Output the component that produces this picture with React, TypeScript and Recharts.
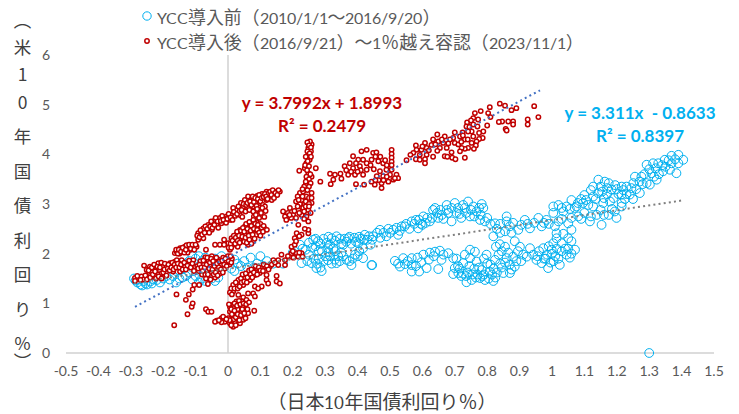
import { ScatterChart, Scatter, XAxis, YAxis, ReferenceLine } from "recharts";

const CJK = '"Noto Sans CJK JP"';
const LATIN = `Lato, ${CJK}, sans-serif`;
// Lato scaled down to sit next to larger kana and kanji, close to the original's Latin width
const MIXED = `NarrowLato, ${CJK}, sans-serif`;
const fontCss = `@font-face { font-family: NarrowLato; src: local("Lato"), local("Lato Regular"); size-adjust: 88%; unicode-range: U+0020-007E; }`;

const xTicks = [-0.5, -0.4, -0.3, -0.2, -0.1, 0, 0.1, 0.2, 0.3, 0.4, 0.5, 0.6, 0.7, 0.8, 0.9, 1, 1.1, 1.2, 1.3, 1.4, 1.5];
const yTicks = [0, 1, 2, 3, 4, 5, 6];

const preName = "YCC導入前（2010/1/1～2016/9/20）";
const postName = "YCC導入後（2016/9/21）～1％越え容認（2023/11/1）";
const xTitle = "（日本10年国債利回り％）";
const yTitle = "（米10年国債利回り％）";

type Pair = [number, number];

// 2010-2016 series
const preLeft: Pair[] = [
  [-0.29, 1.5], [-0.28, 1.42], [-0.27, 1.38], [-0.26, 1.45], [-0.25, 1.38], [-0.24, 1.44], [-0.22, 1.47], [-0.2, 1.5],
  [-0.18, 1.48], [-0.16, 1.42], [-0.15, 1.5], [-0.13, 1.55], [-0.12, 1.62], [-0.1, 1.55], [-0.08, 1.5], [-0.07, 1.45],
  [-0.05, 1.5], [-0.04, 1.45], [-0.03, 1.52], [-0.16, 1.65], [-0.14, 1.7], [-0.12, 1.85], [-0.1, 1.9], [-0.08, 1.85],
  [-0.06, 1.8], [-0.04, 1.9], [-0.02, 1.95], [0, 1.9], [0.01, 1.7], [0.02, 1.65], [0.03, 1.8], [0.05, 1.85],
  [0.06, 1.72], [0.07, 1.92], [0.09, 1.8], [0.1, 1.95], [0.12, 1.85], [0.14, 1.8], [0.17, 1.8], [-0.11, 1.72],
  [-0.09, 1.66], [-0.06, 1.62], [-0.02, 1.72], [-0.285, 1.46], [-0.275, 1.48], [-0.265, 1.36], [-0.255, 1.4], [-0.235, 1.4],
  [-0.23, 1.48], [-0.21, 1.42], [-0.19, 1.55], [-0.17, 1.55], [-0.14, 1.52], [-0.11, 1.48], [-0.09, 1.42], [-0.15, 1.78],
  [-0.13, 1.8], [-0.11, 1.95], [-0.09, 1.95], [-0.07, 1.92], [0.04, 1.75], [0.08, 1.72], [0.11, 1.75], [0.02, 1.88],
];
const preMid: Pair[] = [
  [0.2, 2.02], [0.222, 2.18], [0.227, 1.81], [0.24, 2.08], [0.263, 2.28], [0.278, 2.25], [0.258, 1.81], [0.289, 1.65],
  [0.273, 1.71], [0.309, 2.11], [0.32, 2.31], [0.335, 2.35], [0.325, 2.11], [0.309, 1.87], [0.335, 1.81], [0.356, 2.18],
  [0.371, 2.31], [0.366, 1.875], [0.381, 1.77], [0.392, 1.98], [0.402, 2.21], [0.422, 2.38], [0.417, 2.11], [0.417, 1.91],
  [0.443, 1.77], [0.29, 2.05], [0.3, 1.95], [0.35, 2.02], [0.34, 1.95], [0.28, 1.9], [0.38, 2.2], [0.39, 2.32],
  [0.43, 2.28], [0.44, 2.18], [0.25, 1.98], [0.27, 2.15], [0.36, 2.3], [0.41, 2.3], [0.23, 2.1], [0.25, 2.22],
  [0.26, 2.12], [0.27, 2.3], [0.285, 2.2], [0.295, 2.3], [0.305, 2.22], [0.31, 2.34], [0.315, 2.18], [0.33, 2.26],
  [0.345, 2.3], [0.35, 2.2], [0.365, 2.24], [0.375, 2.34], [0.395, 2.24], [0.405, 2.34], [0.42, 2.28], [0.435, 2.35],
  [0.445, 2.28], [0.245, 1.85], [0.265, 1.9], [0.275, 1.8], [0.285, 1.72], [0.295, 1.85], [0.315, 1.95], [0.32, 1.8],
  [0.33, 1.88], [0.345, 1.85], [0.355, 1.95], [0.375, 1.85], [0.385, 1.9], [0.4, 1.95], [0.405, 2.05], [0.28, 2.05],
  [0.31, 2.03], [0.33, 2.05],
];
const preUpper: Pair[] = [
  [0.448, 2.35], [0.469, 2.48], [0.489, 2.35], [0.51, 2.48], [0.536, 2.55], [0.525, 2.38], [0.567, 2.65], [0.587, 2.51],
  [0.603, 2.75], [0.623, 2.65], [0.649, 2.72], [0.633, 2.88], [0.675, 2.88], [0.69, 2.65], [0.705, 2.82], [0.731, 2.92],
  [0.747, 2.75], [0.767, 2.85], [0.788, 2.92], [0.793, 2.65], [0.778, 2.68], [0.824, 2.61], [0.819, 2.35], [0.855, 2.45],
  [0.86, 2.75], [0.86, 2.65], [0.896, 2.48], [0.916, 2.68], [0.932, 2.51], [0.958, 2.72], [0.968, 2.55], [0.983, 2.68],
  [1.009, 2.55], [1.004, 2.82], [1.035, 2.85], [1.05, 2.61], [1.076, 2.95], [1.081, 2.75], [1.117, 2.65], [1.138, 2.78],
  [1.153, 2.58], [1.16, 2.78], [1.199, 2.72], [1.194, 2.85], [1.215, 2.95], [1.127, 2.95], [1.014, 2.41], [1.014, 2.31],
  [1.05, 2.31], [0.783, 3], [0.741, 3.05], [0.726, 2.98], [0.7, 3.02], [0.675, 2.98], [0.639, 2.92], [0.757, 2.95],
  [0.55, 2.6], [0.58, 2.68], [0.61, 2.62], [0.66, 2.78], [0.72, 2.72], [0.5, 2.42], [0.47, 2.32], [0.6, 2.58],
  [0.46, 2.42], [0.48, 2.42], [0.495, 2.5], [0.52, 2.52], [0.53, 2.46], [0.545, 2.55], [0.56, 2.5], [0.575, 2.6],
  [0.59, 2.68], [0.595, 2.6], [0.615, 2.72], [0.63, 2.72], [0.645, 2.82], [0.655, 2.88], [0.665, 2.7], [0.68, 2.82],
  [0.69, 2.92], [0.71, 2.92], [0.715, 2.8], [0.735, 2.82], [0.75, 2.88], [0.76, 2.75], [0.775, 2.92], [0.78, 2.78],
  [0.8, 2.72], [0.81, 2.6], [0.83, 2.5], [0.84, 2.6], [0.87, 2.55], [0.88, 2.62], [0.905, 2.58], [0.925, 2.6],
  [0.945, 2.62], [0.975, 2.62], [0.99, 2.6], [1.02, 2.65], [1.03, 2.7], [1.06, 2.72], [1.09, 2.7], [1.1, 2.82],
  [1.12, 2.75], [1.15, 2.88], [1.175, 2.78], [1.185, 2.9], [0.84, 2.42], [0.875, 2.42], [1.035, 2.4], [1.06, 2.48],
];
const preLower: Pair[] = [
  [0.515, 1.855], [0.531, 1.74], [0.541, 1.91], [0.546, 1.79], [0.567, 1.91], [0.567, 1.77], [0.567, 1.64], [0.59, 1.64],
  [0.597, 1.83], [0.603, 1.98], [0.613, 1.71], [0.623, 2.02], [0.639, 2.04], [0.649, 1.69], [0.659, 1.875], [0.654, 2.06],
  [0.68, 2.01], [0.695, 1.91], [0.7, 1.71], [0.695, 1.59], [0.711, 1.61], [0.726, 1.81], [0.731, 1.98], [0.747, 2.08],
  [0.747, 1.91], [0.736, 1.425], [0.752, 1.47], [0.762, 2.04], [0.767, 1.84], [0.778, 1.51], [0.783, 1.67], [0.793, 1.47],
  [0.798, 1.98], [0.808, 1.64], [0.819, 1.45], [0.824, 1.875], [0.827, 2.14], [0.839, 2.19], [0.85, 1.61], [0.855, 2.14],
  [0.86, 1.91], [0.87, 1.61], [0.88, 1.94], [0.885, 1.74], [0.885, 2.25], [0.901, 2.14], [0.911, 1.98], [0.922, 1.94],
  [0.932, 2.11], [0.942, 1.98], [0.952, 1.875], [0.968, 1.81], [0.973, 2.11], [0.988, 1.71], [0.999, 2.08], [1.004, 2.21],
  [1.03, 2.21], [1.024, 1.775], [1.045, 1.98], [1.071, 2.08], [0.445, 1.77], [0.72, 1.55], [0.74, 1.62], [0.76, 1.7],
  [0.79, 1.58], [0.82, 1.7], [0.84, 1.8], [0.87, 1.78], [0.71, 1.75], [0.77, 1.58], [0.8, 1.8], [0.98, 1.9],
  [1.01, 1.95], [1.03, 2.05], [1.06, 2.0], [0.525, 1.8], [0.555, 1.85], [0.58, 1.75], [0.585, 1.92], [0.62, 1.88],
  [0.635, 1.95], [0.665, 1.98], [0.705, 1.9], [0.715, 1.7], [0.725, 1.6], [0.735, 1.55], [0.745, 1.75], [0.755, 1.58],
  [0.765, 1.52], [0.775, 1.72], [0.785, 1.55], [0.79, 1.9], [0.805, 1.5], [0.81, 1.78], [0.815, 1.58], [0.825, 1.52],
  [0.83, 1.62], [0.835, 1.98], [0.845, 1.72], [0.845, 2.05], [0.855, 1.82], [0.865, 2.02], [0.875, 1.68], [0.89, 1.85],
  [0.895, 2.05], [0.905, 1.85], [0.955, 1.95], [0.96, 2.05], [0.975, 1.9], [0.985, 1.98], [0.995, 1.82], [1.005, 1.85],
  [1.015, 2.1], [1.02, 1.9], [1.04, 2.1], [1.05, 2.1], [1.055, 1.92], [1.06, 2.25], [1.0, 2.0], [0.99, 2.15],
];
const preRight: Pair[] = [
  [1.405, 3.89], [1.39, 3.99], [1.369, 3.97], [1.39, 3.82], [1.369, 3.82], [1.348, 3.89], [1.328, 3.82], [1.384, 3.62],
  [1.364, 3.69], [1.343, 3.66], [1.312, 3.82], [1.292, 3.79], [1.307, 3.62], [1.323, 3.49], [1.302, 3.39], [1.276, 3.55],
  [1.292, 3.42], [1.256, 3.55], [1.251, 3.42], [1.23, 3.35], [1.215, 3.35], [1.271, 3.22], [1.24, 3.19], [1.215, 3.19],
  [1.184, 3.29], [1.163, 3.45], [1.143, 3.49], [1.127, 3.35], [1.143, 3.22], [1.179, 3.05], [1.215, 3.02], [1.127, 3.15],
  [1.096, 3.02], [1.06, 3.08], [1.08, 3.02], [1.004, 2.95], [1.045, 2.95], [1.112, 2.98], [1.158, 3.02], [1.2, 3.3],
  [1.23, 3.2], [1.28, 3.4], [1.33, 3.6], [1.35, 3.75], [1.1, 3.18], [1.17, 3.2], [1.3, 0], [1.38, 3.9],
  [1.36, 3.88], [1.34, 3.78], [1.32, 3.72], [1.3, 3.7], [1.315, 3.55], [1.285, 3.6], [1.27, 3.45], [1.26, 3.3],
  [1.245, 3.32], [1.22, 3.28], [1.205, 3.2], [1.19, 3.12], [1.17, 3.32], [1.16, 3.12], [1.15, 3.35], [1.135, 3.1],
  [1.12, 3.28], [1.105, 3.08], [1.09, 3.1], [1.07, 2.92], [1.055, 2.9], [1.03, 2.92], [1.02, 2.98], [1.225, 3.1],
  [1.25, 3.1], [1.195, 3.38], [1.175, 3.42], [1.155, 3.25],
];

// 2016-2023 series
const postLeft: Pair[] = [
  [-0.287, 1.51], [-0.287, 1.45], [-0.267, 1.54], [-0.262, 1.48], [-0.259, 1.76], [-0.251, 1.67], [-0.241, 1.74], [-0.23, 1.67],
  [-0.215, 1.81], [-0.22, 1.71], [-0.241, 1.6], [-0.226, 1.55], [-0.21, 1.65], [-0.2, 1.54], [-0.2, 1.74], [-0.19, 1.74],
  [-0.179, 1.81], [-0.164, 1.84], [-0.169, 1.74], [-0.158, 1.87], [-0.143, 1.87], [-0.169, 1.64], [-0.148, 1.64], [-0.133, 1.74],
  [-0.117, 1.81], [-0.107, 1.87], [-0.102, 1.74], [-0.235, 1.62], [-0.215, 1.58], [-0.205, 1.6], [-0.164, 2.01], [-0.158, 2.04],
  [-0.148, 2.11], [-0.138, 2.04], [-0.133, 2.14], [-0.122, 2.14], [-0.117, 2.08], [-0.107, 2.14], [-0.097, 2.14], [-0.068, 2.08],
  [-0.15, 2.0], [-0.125, 2.02], [-0.28, 1.55], [-0.27, 1.47], [-0.255, 1.56], [-0.25, 1.48], [-0.245, 1.66], [-0.24, 1.52],
  [-0.235, 1.72], [-0.232, 1.58], [-0.228, 1.78], [-0.225, 1.64], [-0.222, 1.5], [-0.218, 1.74], [-0.214, 1.54], [-0.21, 1.72],
  [-0.206, 1.82], [-0.205, 1.5], [-0.2, 1.62], [-0.196, 1.68], [-0.195, 1.8], [-0.19, 1.56], [-0.186, 1.7], [-0.184, 1.78],
  [-0.18, 1.66], [-0.175, 1.72], [-0.172, 1.82], [-0.168, 1.68], [-0.165, 1.78], [-0.16, 1.72], [-0.155, 1.8], [-0.15, 1.72],
  [-0.145, 1.78], [-0.14, 1.68], [-0.135, 1.82], [-0.13, 1.68], [-0.125, 1.76], [-0.12, 1.86], [-0.115, 1.72], [-0.11, 1.8],
  [-0.105, 1.65], [-0.16, 2.08], [-0.155, 2.0], [-0.152, 2.08], [-0.145, 2.04], [-0.14, 2.12], [-0.135, 2.02], [-0.13, 2.08],
  [-0.128, 2.17], [-0.12, 2.18], [-0.115, 2.1], [-0.11, 2.18], [-0.104, 2.08], [-0.1, 2.18],
];
const postUpper: Pair[] = [
  [-0.092, 2.28], [-0.092, 2.41], [-0.082, 2.41], [-0.076, 2.31], [-0.076, 2.51], [-0.066, 2.44], [-0.061, 2.58], [-0.05, 2.48],
  [-0.046, 2.61], [-0.04, 2.68], [-0.035, 2.58], [-0.025, 2.72], [-0.02, 2.61], [-0.004, 2.75], [0.006, 2.68], [0.011, 2.78],
  [0.026, 2.88], [0.037, 2.78], [0.047, 2.95], [0.062, 2.92], [0.016, 2.92], [0.052, 3.08], [0.062, 3.15], [0.088, 3.05],
  [0.119, 3.25], [0.129, 3.15], [0.15, 3.25], [0.16, 3.25], [0.119, 3.08], [0.078, 2.95], [0.098, 3.02], [0.135, 3.08],
  [0.075, 3.1], [0.105, 3.2], [0.04, 3.02], [-0.01, 2.7], [0.09, 3.16], [0.14, 3.18], [-0.095, 2.36], [-0.088, 2.33],
  [-0.085, 2.47], [-0.08, 2.38], [-0.072, 2.42], [-0.07, 2.55], [-0.064, 2.5], [-0.058, 2.42], [-0.055, 2.55], [-0.052, 2.65],
  [-0.048, 2.52], [-0.042, 2.58], [-0.038, 2.72], [-0.032, 2.65], [-0.03, 2.52], [-0.022, 2.66], [-0.018, 2.76], [-0.014, 2.68],
  [-0.006, 2.62], [-0.002, 2.7], [0.002, 2.8], [0.008, 2.73], [0.014, 2.68], [0.018, 2.84], [0.022, 2.76], [0.028, 2.8],
  [0.032, 2.95], [0.036, 2.86], [0.042, 2.88], [0.044, 2.74], [0.048, 3.0], [0.054, 2.85], [0.056, 2.98], [0.06, 3.02],
  [0.066, 2.88], [0.068, 3.05], [0.072, 2.98], [0.076, 3.15], [0.08, 3.04], [0.084, 3.12], [0.088, 2.96], [0.092, 3.1],
  [0.096, 3.18], [0.1, 3.05], [0.104, 3.12], [0.108, 2.98], [0.11, 3.14], [0.114, 3.2], [0.118, 3.15], [0.122, 3.1],
  [0.126, 3.22], [0.13, 3.25], [0.134, 3.18], [0.138, 3.28], [0.142, 3.12], [0.146, 3.22], [0.152, 3.18], [0.156, 3.28],
];
const postBlob: Pair[] = [
  [0.006, 2.08], [0.001, 2.21], [0.011, 2.31], [0.026, 2.38], [0.037, 2.48], [0.052, 2.55], [0.068, 2.58], [0.088, 2.65],
  [0.093, 2.78], [0.083, 2.68], [0.078, 2.85], [0.098, 2.88], [0.114, 2.95], [0.016, 2.18], [0.032, 2.21], [0.047, 2.28],
  [0.062, 2.18], [0.078, 2.25], [0.088, 2.38], [0.114, 2.5], [0.068, 2.41], [0.052, 2.38], [0.037, 2.31], [0.021, 2.28],
  [0.098, 2.48], [0.057, 2.45], [0.042, 2.4], [0.07, 2.32], [0.085, 2.48], [0.03, 2.14], [-0.04, 2.18], [-0.025, 2.18],
  [-0.012, 2.28], [-0.012, 2.18], [0.1, 2.6], [0.08, 2.75], [0.002, 2.12], [0.008, 2.2], [0.01, 2.12], [0.014, 2.26],
  [0.018, 2.36], [0.022, 2.2], [0.024, 2.32], [0.028, 2.44], [0.03, 2.26], [0.034, 2.36], [0.036, 2.22], [0.04, 2.46],
  [0.044, 2.34], [0.046, 2.52], [0.05, 2.24], [0.05, 2.44], [0.054, 2.32], [0.056, 2.6], [0.058, 2.22], [0.06, 2.5],
  [0.064, 2.36], [0.066, 2.28], [0.066, 2.64], [0.07, 2.46], [0.072, 2.56], [0.072, 2.2], [0.076, 2.38], [0.078, 2.68],
  [0.08, 2.5], [0.082, 2.3], [0.084, 2.6], [0.086, 2.78], [0.09, 2.48], [0.09, 2.9], [0.092, 2.58], [0.096, 2.42],
  [0.096, 2.72], [0.1, 2.36], [0.102, 2.82], [0.104, 2.52], [0.106, 2.92], [0.108, 2.44], [0.11, 2.56], [0.112, 2.74],
  [0.116, 2.86], [0.12, 2.48],
];
const postCentre: Pair[] = [
  [-0.095, 1.75], [-0.09, 1.65], [-0.085, 1.85], [-0.08, 1.58], [-0.075, 1.78], [-0.07, 1.93], [-0.068, 1.5], [-0.065, 1.68],
  [-0.06, 1.85], [-0.055, 1.75], [-0.05, 1.62], [-0.05, 1.95], [-0.045, 1.8], [-0.04, 1.52], [-0.035, 1.7], [-0.03, 1.88],
  [-0.025, 1.6], [-0.02, 1.78], [-0.015, 1.92], [-0.01, 1.7], [-0.005, 1.85], [0, 1.95], [0.005, 1.78], [0.012, 1.9],
  [-0.062, 1.39], [-0.07, 1.58], [-0.092, 1.7], [-0.088, 1.78], [-0.082, 1.72], [-0.078, 1.65], [-0.076, 1.86], [-0.072, 1.72],
  [-0.066, 1.78], [-0.064, 1.92], [-0.062, 1.58], [-0.058, 1.7], [-0.056, 1.82], [-0.054, 1.48], [-0.052, 1.9], [-0.048, 1.68],
  [-0.046, 1.85], [-0.044, 1.58], [-0.042, 1.75], [-0.038, 1.62], [-0.036, 1.92], [-0.034, 1.8], [-0.032, 1.56], [-0.028, 1.72],
  [-0.026, 1.84], [-0.022, 1.68], [-0.018, 1.86], [-0.016, 1.62], [-0.012, 1.78], [-0.008, 1.9], [-0.004, 1.75], [0.002, 1.85],
  [0.008, 1.95], [0.01, 1.82],
];
const postStrays: Pair[] = [
  [-0.166, 0.56], [-0.125, 0.78], [-0.112, 0.93], [-0.109, 1.0], [-0.13, 1.07], [-0.121, 1.18], [-0.159, 1.18], [-0.109, 1.28],
  [-0.104, 1.37], [-0.089, 1.37], [-0.068, 0.88], [-0.061, 0.83], [-0.051, 0.83],
];
const postLow: Pair[] = [
  [0.006, 0.93], [0.016, 0.97], [0.032, 1.17], [0.047, 1.12], [0.042, 1.04], [0.057, 1.07], [0.026, 1.04], [0.016, 0.9],
  [0.037, 0.9], [0.052, 0.93], [0.006, 0.83], [0.026, 0.8], [0.042, 0.83], [0.057, 0.87], [0.001, 0.7], [0.016, 0.73],
  [0.032, 0.7], [0.047, 0.73], [0.062, 0.8], [0.081, 0.85], [0.016, 0.53], [0.006, 0.6], [0.021, 0.63], [0.037, 0.6],
  [0.047, 0.67], [-0.01, 0.63], [-0.02, 0.7], [-0.02, 0.62], [-0.035, 0.65], [-0.04, 0.63], [-0.015, 0.73], [0.012, 0.66],
  [0.03, 0.88], [0.02, 1.0], [0.045, 0.95], [0.003, 0.98], [0.01, 0.88], [0.012, 0.78], [0.018, 0.68], [0.02, 0.85],
  [0.024, 0.72], [0.028, 0.95], [0.03, 0.78], [0.034, 1.05], [0.035, 0.66], [0.038, 0.98], [0.04, 0.76], [0.044, 0.88],
  [0.048, 1.0], [0.05, 0.8], [0.054, 0.7], [0.056, 0.98], [0.06, 0.88], [0.005, 0.66], [0.01, 0.56], [0.024, 0.56],
  [-0.005, 0.68], [-0.028, 0.66], [0.065, 1.02],
];
const postRise: Pair[] = [
  [0.016, 1.24], [0.006, 1.22], [0.026, 1.34], [0.016, 1.37], [0.037, 1.4], [0.032, 1.47], [0.052, 1.5], [0.047, 1.37],
  [0.062, 1.57], [0.068, 1.47], [0.078, 1.67], [0.088, 1.71], [0.104, 1.71], [0.114, 1.74], [0.098, 1.61], [0.083, 1.57],
  [0.119, 1.57], [0.119, 1.47], [0.124, 1.4], [0.104, 1.34], [0.083, 1.34], [0.093, 1.3], [0.078, 1.2], [0.062, 1.2],
  [0.083, 1.14], [0.14, 1.87], [0.155, 1.87], [0.165, 1.98], [0.176, 1.87], [0.155, 1.77], [0.176, 1.77], [0.129, 1.74],
  [0.15, 1.55], [0.15, 1.44], [0.16, 1.4], [0.191, 1.94], [0.196, 2.01], [0.212, 2.01], [0.227, 2.01], [0.217, 1.94],
  [0.23, 1.94], [0.196, 2.14], [0.206, 2.18], [0.206, 2.31], [0.212, 2.41], [0.227, 2.38], [0.248, 2.41], [0.248, 2.48],
  [0.237, 2.5], [0.217, 2.58], [0.01, 1.3], [0.012, 1.18], [0.02, 1.3], [0.024, 1.42], [0.03, 1.3], [0.036, 1.34],
  [0.04, 1.5], [0.042, 1.42], [0.045, 1.58], [0.05, 1.44], [0.055, 1.6], [0.058, 1.42], [0.06, 1.52], [0.065, 1.66],
  [0.07, 1.58], [0.072, 1.68], [0.075, 1.52], [0.08, 1.62], [0.085, 1.75], [0.09, 1.58], [0.095, 1.72], [0.1, 1.66],
  [0.108, 1.65], [0.11, 1.78], [0.12, 1.75], [0.125, 1.68], [0.135, 1.78], [0.145, 1.82], [0.2, 2.05], [0.185, 1.95],
  [0.202, 1.92], [0.22, 2.02], [0.21, 2.25], [0.22, 2.35],
];
const postSpire: Pair[] = [
  [0.17, 2.85], [0.176, 2.75], [0.191, 2.92], [0.201, 2.78], [0.18, 2.68], [0.217, 2.88], [0.232, 2.92], [0.248, 2.88],
  [0.227, 2.78], [0.242, 2.75], [0.248, 2.65], [0.222, 3.0], [0.258, 3.02], [0.237, 3.0], [0.227, 3.08], [0.242, 3.15],
  [0.222, 3.22], [0.258, 3.22], [0.232, 3.25], [0.24, 3.39], [0.248, 3.45], [0.258, 3.55], [0.248, 3.62], [0.237, 3.72],
  [0.242, 3.82], [0.252, 3.89], [0.248, 4.0], [0.256, 4.06], [0.248, 4.13], [0.258, 4.2], [0.253, 4.26], [0.22, 3.67],
  [0.271, 3.72], [0.285, 3.45], [0.245, 4.24], [0.25, 4.18], [0.256, 4.14], [0.245, 4.06], [0.252, 4.02], [0.24, 3.95],
  [0.256, 3.95], [0.246, 3.86], [0.238, 3.78], [0.25, 3.76], [0.244, 3.68], [0.254, 3.6], [0.242, 3.55], [0.25, 3.5],
  [0.24, 3.45], [0.255, 3.42], [0.235, 3.35], [0.25, 3.35], [0.23, 3.3], [0.245, 3.28], [0.215, 3.15], [0.23, 3.15],
  [0.25, 3.12], [0.258, 3.12], [0.21, 3.05], [0.218, 3.08], [0.24, 3.05], [0.25, 3.0], [0.215, 2.95], [0.24, 2.95],
  [0.25, 2.95], [0.205, 2.86], [0.22, 2.82], [0.235, 2.85], [0.255, 2.82], [0.185, 2.82], [0.195, 2.72], [0.21, 2.72],
  [0.19, 2.78], [0.235, 2.7],
];
const postMid: Pair[] = [
  [0.428, 4.09], [0.412, 4.06], [0.386, 3.96], [0.402, 3.89], [0.417, 3.89], [0.428, 3.82], [0.376, 3.82], [0.36, 3.76],
  [0.386, 3.72], [0.407, 3.76], [0.428, 3.69], [0.371, 3.59], [0.392, 3.59], [0.417, 3.59], [0.347, 3.61], [0.33, 3.59],
  [0.315, 3.61], [0.35, 3.51], [0.325, 3.49], [0.317, 3.4], [0.395, 3.4], [0.42, 3.39], [0.448, 4.03], [0.458, 4.04],
  [0.443, 3.89], [0.464, 3.86], [0.479, 3.82], [0.505, 4.09], [0.505, 4.01], [0.505, 3.93], [0.505, 3.85], [0.505, 3.78],
  [0.505, 3.69], [0.489, 3.69], [0.469, 3.66], [0.459, 3.56], [0.479, 3.56], [0.5, 3.59], [0.52, 3.59], [0.525, 3.52],
  [0.51, 3.49], [0.495, 3.45], [0.474, 3.42], [0.474, 3.32], [0.453, 3.39], [0.443, 3.45], [0.395, 3.82], [0.41, 3.68],
  [0.38, 3.65], [0.365, 3.68], [0.4, 3.65], [0.44, 3.78], [0.455, 3.95], [0.47, 3.95], [0.485, 3.88], [0.49, 3.78],
  [0.45, 3.7], [0.465, 3.48], [0.48, 3.48], [0.49, 3.55], [0.515, 3.52], [0.455, 3.48],
];
const postRight: Pair[] = [
  [0.839, 5.02], [0.855, 4.98], [0.89, 4.93], [0.875, 4.89], [0.945, 4.97], [0.958, 4.75], [0.925, 4.7], [0.925, 4.6],
  [0.88, 4.66], [0.88, 4.6], [0.865, 4.66], [0.846, 4.66], [0.836, 4.65], [0.857, 4.51], [0.86, 4.48], [0.808, 4.95],
  [0.803, 4.83], [0.81, 4.75], [0.78, 4.87], [0.762, 4.83], [0.757, 4.73], [0.772, 4.7], [0.8, 4.58], [0.738, 4.64],
  [0.736, 4.56], [0.757, 4.6], [0.77, 4.56], [0.788, 4.46], [0.775, 4.43], [0.786, 4.33], [0.775, 4.31], [0.752, 4.46],
  [0.757, 4.36], [0.767, 4.26], [0.765, 4.18], [0.759, 4.11], [0.7, 4.44], [0.724, 4.44], [0.741, 4.46], [0.716, 4.36],
  [0.731, 4.3], [0.752, 4.23], [0.741, 4.13], [0.731, 4.11], [0.721, 4.13], [0.716, 4.06], [0.731, 3.93], [0.695, 4.33],
  [0.685, 4.3], [0.7, 4.23], [0.711, 4.2], [0.669, 4.36], [0.646, 4.4], [0.633, 4.3], [0.649, 4.26], [0.664, 4.23],
  [0.628, 4.19], [0.654, 4.13], [0.675, 4.13], [0.646, 4.07], [0.608, 4.23], [0.58, 4.18], [0.582, 4.09], [0.597, 4.09],
  [0.613, 4.13], [0.572, 4.03], [0.563, 3.99], [0.592, 3.99], [0.613, 3.99], [0.633, 3.95], [0.58, 3.9], [0.592, 3.89],
  [0.608, 3.9], [0.608, 3.82], [0.551, 3.88], [0.669, 3.96], [0.69, 4.04], [0.677, 3.95], [0.692, 3.93], [0.702, 3.9],
  [0.72, 4.25], [0.74, 4.3], [0.66, 4.3], [0.64, 4.2], [0.62, 4.08], [0.6, 4.16], [0.68, 4.22], [0.75, 4.68],
  [0.725, 4.38], [0.745, 4.55],
];

// both dotted trendlines, ends as drawn
const preTrendEnds: Pair[] = [[-0.29, 1.41], [1.4, 3.07]];
const postTrendEnds: Pair[] = [[-0.287, 0.93], [0.963, 5.29]];

const toPoints = (pairs: Pair[]) => pairs.map(([x, y]) => ({ x, y }));

const preData = toPoints([...preLeft, ...preMid, ...preUpper, ...preLower, ...preRight]);
const postData = toPoints([
  ...postLeft, ...postUpper, ...postBlob, ...postCentre, ...postStrays,
  ...postLow, ...postRise, ...postSpire, ...postMid, ...postRight,
]);

const BLUE = "#00b0f0";
const RED = "#c00000";

const PreDot = (p: any) => <circle cx={p.cx} cy={p.cy} r={4.4} fill="none" stroke={BLUE} strokeWidth={1} />;
const PostDot = (p: any) => <circle cx={p.cx} cy={p.cy} r={2.2} fill="#fff" stroke={RED} strokeWidth={1.5} />;
const NoDot = () => <g />;

function ChartLegend() {
  const rows = [
    { name: preName, r: 4.2, color: BLUE, sw: 1 },
    { name: postName, r: 2.2, color: RED, sw: 1.5 },
  ];
  return (
    <div style={{ position: "absolute", left: 140, top: 4, fontFamily: MIXED, fontSize: 17.9, color: "#595959" }}>
      {rows.map((row) => (
        <div key={row.name} style={{ display: "flex", alignItems: "center", height: 24.5, whiteSpace: "nowrap" }}>
          <svg width={17} height={14}>
            <circle cx={7} cy={7} r={row.r} fill="#fff" stroke={row.color} strokeWidth={row.sw} />
          </svg>
          {row.name}
        </div>
      ))}
    </div>
  );
}

// vertical title: spacing differs per glyph, same as the original's uneven stacking
function VerticalTitle() {
  const gaps = [9, 10, 10, 17, 17, 17, 17, 17, 17, 17, 0, 0];
  return (
    <div
      style={{
        position: "absolute",
        left: 12,
        top: 12,
        writingMode: "vertical-rl",
        textOrientation: "upright",
        fontFamily: CJK,
        fontSize: 17.5,
        lineHeight: "20px",
        color: "#404040",
        whiteSpace: "nowrap",
      }}
    >
      {Array.from(yTitle).map((ch, i) => (
        <span key={i} style={{ letterSpacing: gaps[i] }}>{ch}</span>
      ))}
    </div>
  );
}

const noteStyle = { position: "absolute", fontFamily: "Lato, sans-serif", fontWeight: 700, fontSize: 17, lineHeight: "23px", whiteSpace: "pre", textAlign: "center" } as const;

export default function App() {
  return (
    <div style={{ position: "absolute", left: 0, top: 0, width: 739, height: 414, background: "#fff", overflow: "hidden" }}>
      <style>{fontCss}</style>
      <ScatterChart width={739} height={414} margin={{ top: 55, right: 25, bottom: 0, left: 26 }}>
        <XAxis
          type="number"
          dataKey="x"
          domain={[-0.5, 1.5]}
          ticks={xTicks}
          interval={0}
          height={61}
          tickFormatter={(v) => String(v)}
          tick={{ fill: "#595959", fontSize: 14, fontFamily: LATIN }}
          tickLine={false}
          tickSize={0}
          tickMargin={13}
          axisLine={{ stroke: "#d0d0d0", strokeWidth: 1.5 }}
          label={{ value: xTitle, position: "insideBottom", offset: 5, dx: -8, fill: "#404040", fontSize: 19, fontFamily: MIXED }}
        />
        <YAxis
          type="number"
          dataKey="y"
          domain={[0, 6]}
          ticks={yTicks}
          interval={0}
          width={40}
          tick={{ fill: "#595959", fontSize: 14, fontFamily: LATIN }}
          tickLine={false}
          tickSize={0}
          tickMargin={16}
          axisLine={false}
        />
        <ReferenceLine x={0} stroke="#d0d0d0" strokeWidth={1.5} />
        <Scatter name={preName} data={preData} shape={PreDot} isAnimationActive={false} />
        <Scatter name={postName} data={postData} shape={PostDot} isAnimationActive={false} />
        <Scatter
          data={toPoints(preTrendEnds)}
          shape={NoDot}
          line={{ stroke: "#7f7f7f", strokeWidth: 2, strokeDasharray: "2 3.2" }}
          legendType="none"
          isAnimationActive={false}
        />
        <Scatter
          data={toPoints(postTrendEnds)}
          shape={NoDot}
          line={{ stroke: "#4472c4", strokeWidth: 2, strokeDasharray: "2 3.2" }}
          legendType="none"
          isAnimationActive={false}
        />
      </ScatterChart>
      <ChartLegend />
      <div style={{ ...noteStyle, left: 222, top: 91, width: 200, color: RED }}>
        {"y = 3.7992x + 1.8993\nR² = 0.2479"}
      </div>
      <div style={{ ...noteStyle, left: 540, top: 101, width: 200, color: BLUE }}>
        {"y = 3.311x  - 0.8633\nR² = 0.8397"}
      </div>
      <VerticalTitle />
    </div>
  );
}
